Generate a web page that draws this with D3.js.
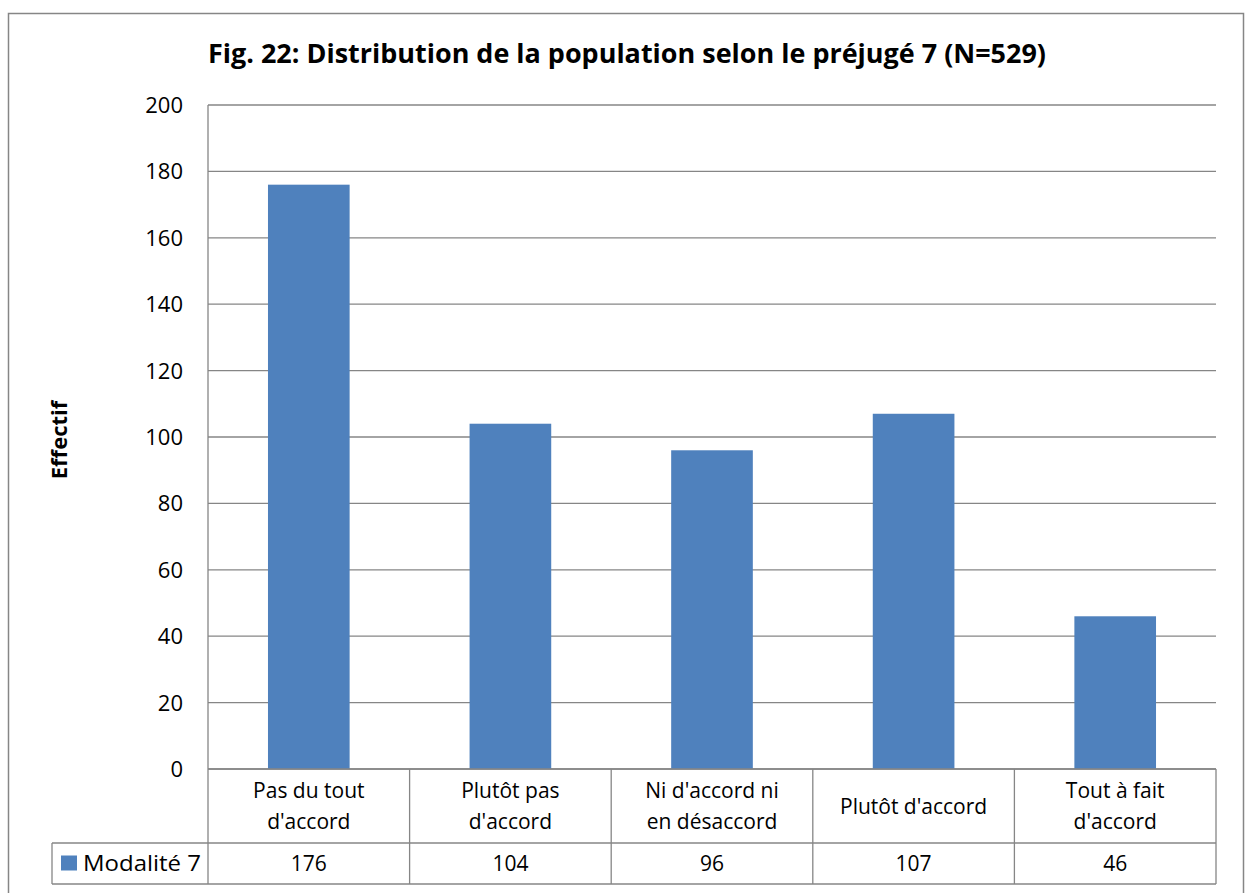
<!DOCTYPE html>
<html lang="fr">
<head>
    <meta charset="UTF-8">
    <title>Fig. 22</title>
    <script src="https://d3js.org/d3.v7.min.js"></script>
    <style>
        body { margin: 0; background: #fff; }
        svg text { font-family: "Open Sans", sans-serif; fill: #000; }
    </style>
</head>
<body>
    <div id="chart"></div>

    <script>
        // Data
        const categories = [
            ["Pas du tout", "d'accord"],
            ["Plutôt pas", "d'accord"],
            ["Ni d'accord ni", "en désaccord"],
            ["Plutôt d'accord"],
            ["Tout à fait", "d'accord"]
        ];
        const values = [176, 104, 96, 107, 46];
        const seriesName = "Modalité 7";
        const yTicks = [0, 20, 40, 60, 80, 100, 120, 140, 160, 180, 200];
        const title = "Fig. 22: Distribution de la population selon le préjugé 7 (N=529)";
        const yTitle = "Effectif";

        const width = 1245, height = 893;
        const plot = { left: 208, right: 1216, top: 105, bottom: 769 };
        const row1Bottom = 843, row2Bottom = 884, legendLeft = 52;
        const gridColor = "#868686";
        const labelSize = 21;

        const svg = d3.select("#chart").append("svg")
            .attr("width", width)
            .attr("height", height);

        // Outer frame
        svg.append("rect")
            .attr("x", 8.5).attr("y", 13.5)
            .attr("width", 1235).attr("height", 900)
            .attr("fill", "none")
            .attr("stroke", gridColor)
            .attr("stroke-width", 1.5);

        const x = d3.scaleBand()
            .domain(d3.range(categories.length))
            .range([plot.left, plot.right]);

        const y = d3.scaleLinear()
            .domain([0, 200])
            .range([plot.bottom, plot.top]);

        // Gridlines
        svg.append("g").selectAll("line")
            .data(yTicks)
            .join("line")
            .attr("x1", plot.left).attr("x2", plot.right)
            .attr("y1", d => y(d)).attr("y2", d => y(d))
            .attr("stroke", gridColor)
            .attr("stroke-width", 1.3);

        // Y axis line
        svg.append("line")
            .attr("x1", plot.left).attr("x2", plot.left)
            .attr("y1", plot.top).attr("y2", plot.bottom)
            .attr("stroke", gridColor)
            .attr("stroke-width", 1.3);

        // Y tick labels
        svg.append("g").selectAll("text")
            .data(yTicks)
            .join("text")
            .attr("x", 183)
            .attr("y", d => y(d))
            .attr("dy", "0.36em")
            .attr("text-anchor", "end")
            .attr("font-size", 22)
            .text(d => d);

        // Bars
        const barW = x.bandwidth() * 0.405;
        svg.append("g").selectAll("rect")
            .data(values)
            .join("rect")
            .attr("x", (d, i) => x(i) + (x.bandwidth() - barW) / 2)
            .attr("y", d => y(d))
            .attr("width", barW)
            .attr("height", d => y(0) - y(d))
            .attr("fill", "#4F81BD");

        // Data table
        const table = svg.append("g")
            .attr("stroke", gridColor)
            .attr("stroke-width", 1.3);
        // horizontal lines
        table.append("line").attr("x1", plot.left).attr("x2", plot.right)
            .attr("y1", plot.bottom).attr("y2", plot.bottom);
        table.append("line").attr("x1", legendLeft).attr("x2", plot.right)
            .attr("y1", row1Bottom).attr("y2", row1Bottom);
        table.append("line").attr("x1", legendLeft).attr("x2", plot.right)
            .attr("y1", row2Bottom).attr("y2", row2Bottom);
        // vertical lines
        const colEdges = d3.range(categories.length).map(i => x(i)).concat([plot.right]);
        table.selectAll("line.col")
            .data(colEdges)
            .join("line")
            .attr("class", "col")
            .attr("x1", d => d).attr("x2", d => d)
            .attr("y1", plot.bottom).attr("y2", row2Bottom);
        table.append("line").attr("x1", legendLeft).attr("x2", legendLeft)
            .attr("y1", row1Bottom).attr("y2", row2Bottom);

        // Category labels
        const rowMid = (plot.bottom + row1Bottom) / 2;
        categories.forEach((lines, i) => {
            const cx = x(i) + x.bandwidth() / 2;
            const t = svg.append("text")
                .attr("text-anchor", "middle")
                .attr("font-size", labelSize);
            lines.forEach((ln, j) => {
                t.append("tspan")
                    .attr("x", cx)
                    .attr("y", rowMid + (j - (lines.length - 1) / 2) * 31)
                    .attr("dy", "0.36em")
                    .text(ln);
            });
        });

        // Values row
        const row2Mid = (row1Bottom + row2Bottom) / 2;
        svg.append("g").selectAll("text")
            .data(values)
            .join("text")
            .attr("x", (d, i) => x(i) + x.bandwidth() / 2)
            .attr("y", row2Mid)
            .attr("dy", "0.36em")
            .attr("text-anchor", "middle")
            .attr("font-size", labelSize)
            .text(d => d);

        // Legend key
        svg.append("rect")
            .attr("x", 61).attr("y", row2Mid - 8)
            .attr("width", 16).attr("height", 15)
            .attr("fill", "#4F81BD");
        svg.append("text")
            .attr("x", 83)
            .attr("y", row2Mid)
            .attr("dy", "0.36em")
            .attr("font-size", labelSize)
            .attr("textLength", 118)
            .attr("lengthAdjust", "spacingAndGlyphs")
            .text(seriesName);

        // Title
        svg.append("text")
            .attr("x", (plot.left + 1046) / 2)
            .attr("y", 63)
            .attr("text-anchor", "middle")
            .attr("font-size", 27)
            .attr("font-weight", "bold")
            .attr("textLength", 838)
            .attr("lengthAdjust", "spacingAndGlyphs")
            .text(title);

        // Y axis title
        svg.append("text")
            .attr("transform", `translate(67, 440) rotate(-90)`)
            .attr("text-anchor", "middle")
            .attr("font-size", 22)
            .attr("font-weight", "bold")
            .text(yTitle);
    </script>
</body>
</html>
